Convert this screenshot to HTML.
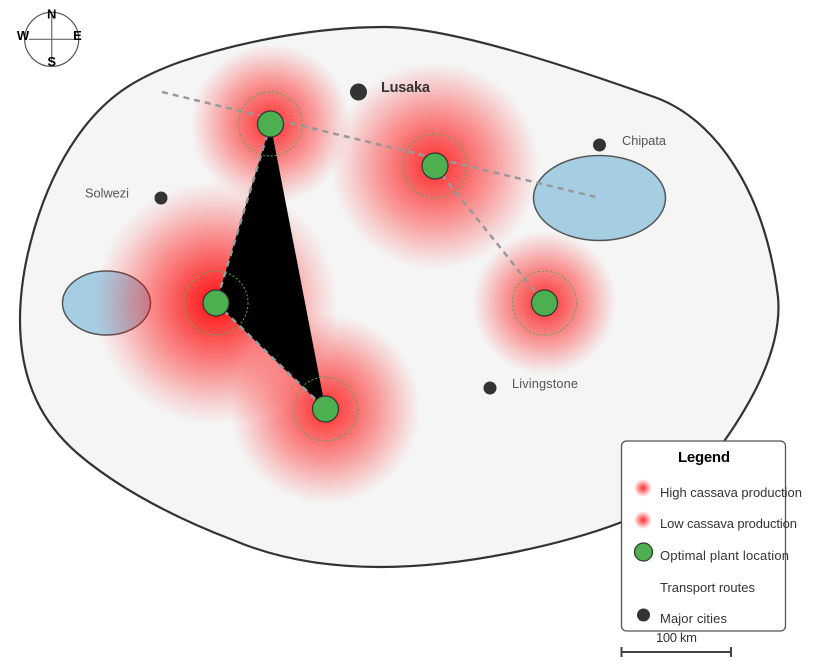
<!DOCTYPE html>
<html>
<head>
<meta charset="utf-8">
<style>
html,body{margin:0;padding:0;background:#fff;width:816px;height:672px;overflow:hidden}
svg{display:block}
text{font-family:"Liberation Sans",sans-serif}
</style>
</head>
<body>
<svg width="816" height="672" viewBox="0 0 816 672" xmlns="http://www.w3.org/2000/svg">
<defs>
<radialGradient id="h1"><stop offset="0" stop-color="#f00" stop-opacity=".95"/><stop offset=".55" stop-color="#f00" stop-opacity=".42"/><stop offset=".85" stop-color="#f00" stop-opacity=".12"/><stop offset="1" stop-color="#f00" stop-opacity="0"/></radialGradient>
<radialGradient id="h2"><stop offset="0" stop-color="#f00" stop-opacity=".82"/><stop offset=".55" stop-color="#f00" stop-opacity=".38"/><stop offset=".85" stop-color="#f00" stop-opacity=".12"/><stop offset="1" stop-color="#f00" stop-opacity="0"/></radialGradient>
</defs>
<rect width="816" height="672" fill="#fff"/>
<path d="M20,320 C20,265 40,190 77,137 C105,97 135,78 180,62 C245,40 320,27 385,27 C450,27 570,67 657,98 C715,120 765,190 778,297 C782,340 760,390 725,440 C695,483 660,507 622,522 C570,542 470,567 380,567 C330,567 280,560 233,540 C180,520 120,490 77,453 C45,425 20,385 20,320 Z" fill="#f5f5f5" stroke="#333" stroke-width="2.200"/>
<ellipse cx="599.500" cy="198" rx="66" ry="42.500" fill="#a6cee3" stroke="#555" stroke-width="1.500"/>
<ellipse cx="106.500" cy="303" rx="44" ry="32" fill="#a6cee3" stroke="#555" stroke-width="1.500"/>
<circle cx="216" cy="303" r="122" fill="url(#h1)"/>
<circle cx="325.500" cy="409" r="95" fill="url(#h2)"/>
<circle cx="270.500" cy="124" r="80" fill="url(#h2)"/>
<circle cx="435" cy="166" r="104" fill="url(#h2)"/>
<circle cx="544.500" cy="303" r="72" fill="url(#h2)"/>
<path d="M270.500,124 L216,303 L325.500,409" fill="#000" stroke="#999" stroke-width="2.500" stroke-dasharray="6 5"/>
<line x1="162" y1="92" x2="600" y2="198" stroke="#999" stroke-width="2.500" stroke-dasharray="6 5"/>
<line x1="435" y1="166" x2="544.500" y2="303" stroke="#999" stroke-width="2.500" stroke-dasharray="6 5"/>
<g fill="none" stroke="#4caf50" stroke-width="1" stroke-dasharray="2 2">
<circle cx="270.500" cy="124" r="32"/>
<circle cx="435" cy="166" r="32"/>
<circle cx="544.500" cy="303" r="32"/>
<circle cx="216" cy="303" r="32"/>
<circle cx="325.500" cy="409" r="32"/>
</g>
<g fill="#4caf50" stroke="#333" stroke-width="1.200">
<circle cx="270.500" cy="124" r="13"/>
<circle cx="435" cy="166" r="13"/>
<circle cx="544.500" cy="303" r="13"/>
<circle cx="216" cy="303" r="13"/>
<circle cx="325.500" cy="409" r="13"/>
</g>
<g fill="#333">
<circle cx="358.500" cy="92" r="8.500"/>
<circle cx="599.500" cy="145" r="6.500"/>
<circle cx="161" cy="198" r="6.500"/>
<circle cx="490" cy="388" r="6.500"/>
</g>
<text x="381" y="92" font-size="14.500" font-weight="bold" fill="#333" textLength="49">Lusaka</text>
<g font-size="12.800" fill="#555">
<text x="622" y="145" textLength="44">Chipata</text>
<text x="85" y="197.500" textLength="44">Solwezi</text>
<text x="512" y="388" textLength="66">Livingstone</text>
</g>
<!-- compass -->
<circle cx="51.700" cy="39.300" r="27" fill="none" stroke="#555" stroke-width="1.200"/>
<line x1="29" y1="39.300" x2="74" y2="39.300" stroke="#666" stroke-width="1.200"/>
<line x1="51.700" y1="15" x2="51.700" y2="63" stroke="#666" stroke-width="1.200"/>
<g font-size="13" font-weight="bold" fill="#000" text-anchor="middle">
<text x="51.700" y="18.500">N</text>
<text x="23" y="40">W</text>
<text x="77.500" y="40">E</text>
<text x="51.700" y="66">S</text>
</g>
<!-- legend -->
<rect x="621.500" y="441" width="164" height="190" rx="5" fill="#fff" stroke="#555" stroke-width="1.300"/>
<text x="678" y="462" font-size="15" font-weight="bold" fill="#000" textLength="52">Legend</text>
<circle cx="643" cy="488" r="9" fill="url(#h2)"/>
<circle cx="643" cy="520" r="9" fill="url(#h2)"/>
<circle cx="643.500" cy="552" r="9" fill="#4caf50" stroke="#333" stroke-width="1.200"/>
<circle cx="643.500" cy="615" r="6.500" fill="#333"/>
<g font-size="13" fill="#333">
<text x="660" y="497" textLength="142">High cassava production</text>
<text x="660" y="528" textLength="137">Low cassava production</text>
<text x="660" y="560" textLength="129">Optimal plant location</text>
<text x="660" y="592" textLength="95">Transport routes</text>
<text x="660" y="623" textLength="67">Major cities</text>
<text x="656" y="642" textLength="41">100 km</text>
</g>
<path d="M621.500,652 H731 M621.500,647 V657 M731,647 V657" fill="none" stroke="#444" stroke-width="2"/>
</svg>
</body>
</html>
